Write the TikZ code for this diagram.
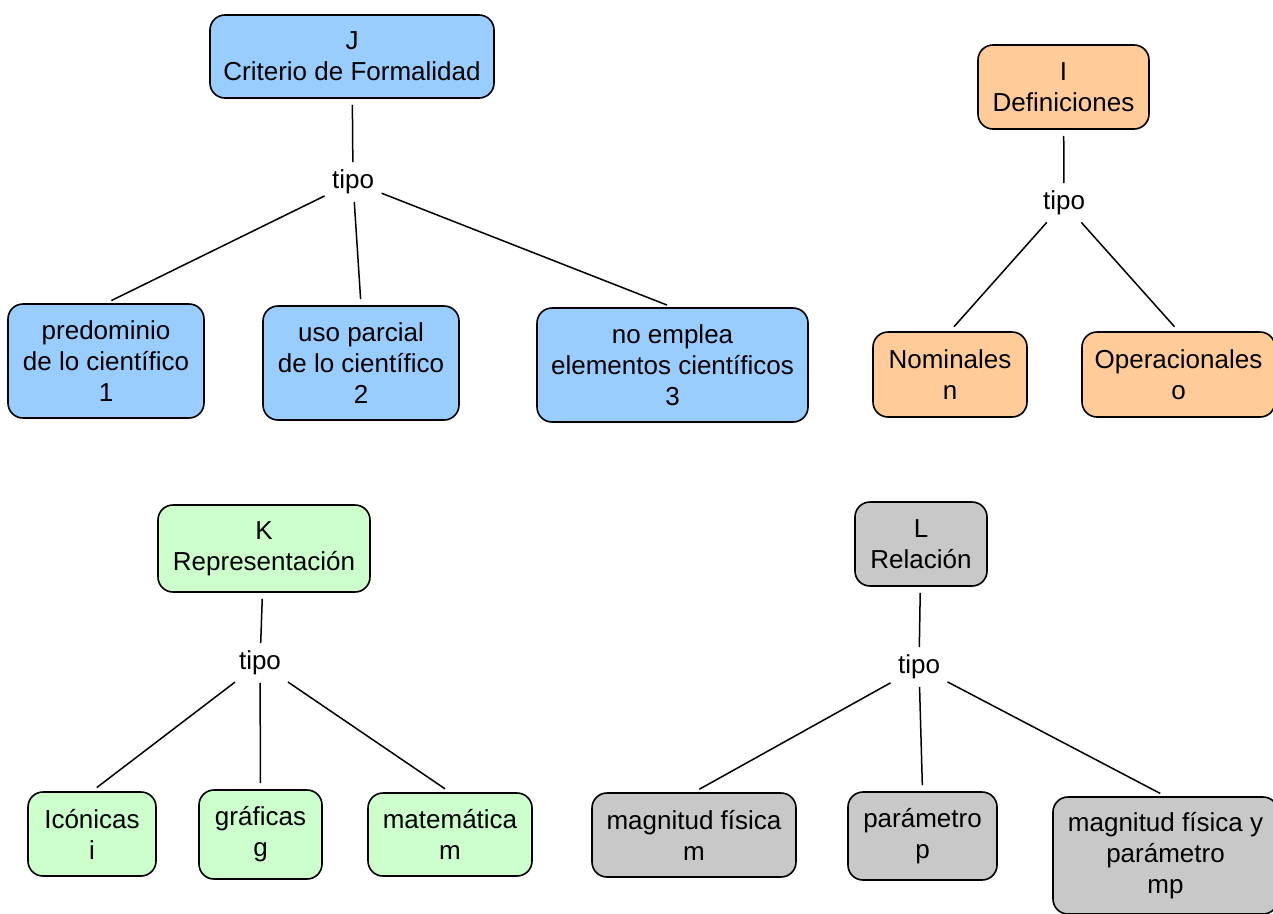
\documentclass[tikz,border=0pt]{standalone}
\usepackage{fontspec}
\setmainfont{Liberation Sans}
\usetikzlibrary{positioning}

\definecolor{azul}{HTML}{99CCFF}
\definecolor{naranja}{HTML}{FFCC99}
\definecolor{verde}{HTML}{CCFFCC}
\definecolor{gris}{HTML}{C8C8C8}

\begin{document}
\begin{tikzpicture}[x=1pt,y=-1pt,line width=1.5pt]
	\tikzstyle{every node}=[font=\fontsize{26}{31}\selectfont]
	\tikzstyle{caja}=[draw,line width=1.6pt,rounded corners=15pt,align=center,inner sep=0pt]
	\tikzstyle{tipo}=[inner sep=5pt]
	\tikzstyle{link}=[shorten <=2pt,shorten >=6pt]

	\fill[white] (0,0) rectangle (1273,913);
	\useasboundingbox (0,0) rectangle (1273,913);

	% J
	\node[caja,fill=azul,minimum width=284pt,minimum height=83pt] (J) at (352,56.5) {J\\Criterio de Formalidad};
	\node[tipo] (tJ) at (353,182) {tipo};
	\node[caja,fill=azul,minimum width=196pt,minimum height=114pt] (J1) at (106,361) {predominio\\de lo científico\\1};
	\node[caja,fill=azul,minimum width=196pt,minimum height=114pt] (J2) at (361,363) {uso parcial\\de lo científico\\2};
	\node[caja,fill=azul,minimum width=271pt,minimum height=114pt] (J3) at (672.5,365) {no emplea\\elementos científicos\\3};

	\draw[link] (tJ) -- (J);
	\draw[link] (tJ) -- (J1.north);
	\draw[link] (tJ) -- (J2.north);
	\draw[link] (tJ) -- (J3.north);

	% I
	\node[caja,fill=naranja,minimum width=171pt,minimum height=84pt] (I) at (1063.5,87) {I\\Definiciones};
	\node[tipo] (tI) at (1064,203) {tipo};
	\node[caja,fill=naranja,minimum width=154pt,minimum height=85pt] (In) at (950,374.5) {Nominales\\n};
	\node[caja,fill=naranja,minimum width=193pt,minimum height=85pt] (Io) at (1178.5,374.5) {Operacionales\\o};

	\draw[link] (tI) -- (I);
	\draw[link] (tI) -- (In.north);
	\draw[link] (tI) -- (Io.north);

	% K
	\node[caja,fill=verde,minimum width=212pt,minimum height=87pt] (K) at (264,548.5) {K\\Representación};
	\node[tipo] (tK) at (260,663) {tipo};
	\node[caja,fill=verde,minimum width=128pt,minimum height=84pt] (Ki) at (92,834) {Icónicas\\i};
	\node[caja,fill=verde,minimum width=123pt,minimum height=89pt] (Kg) at (260.5,834.5) {gráficas\\g};
	\node[caja,fill=verde,minimum width=164pt,minimum height=83pt] (Km) at (450,834.5) {matemática\\m};

	\draw[link] (tK) -- (K);
	\draw[link] (tK) -- (Ki.north);
	\draw[link] (tK) -- (Kg.north);
	\draw[link] (tK) -- (Km.north);

	% L
	\node[caja,fill=gris,minimum width=132pt,minimum height=84pt] (L) at (921,544) {L\\Relación};
	\node[tipo] (tL) at (919,667) {tipo};
	\node[caja,fill=gris,minimum width=204pt,minimum height=84pt] (Lm) at (694,835) {magnitud física\\m};
	\node[caja,fill=gris,minimum width=149pt,minimum height=88pt] (Lp) at (922.5,836) {parámetro\\p};
	\node[caja,fill=gris,minimum width=225pt,minimum height=117pt] (Lmp) at (1165.5,855.5) {magnitud física y\\parámetro\\mp};

	\draw[link] (tL) -- (L);
	\draw[link] (tL) -- (Lm.north);
	\draw[link] (tL) -- (Lp.north);
	\draw[link] (tL) -- (Lmp.north);
\end{tikzpicture}
\end{document}
